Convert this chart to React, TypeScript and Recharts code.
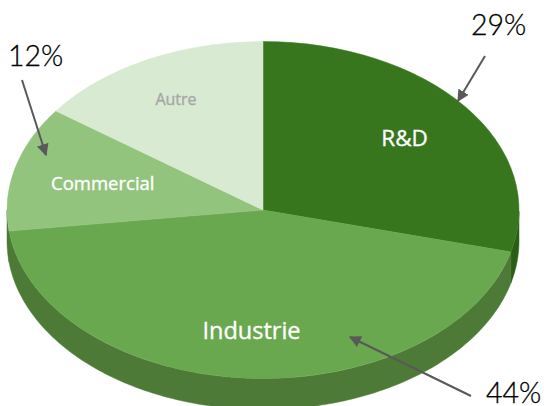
import React from "react";
import { PieChart, Pie, Cell } from "recharts";

const categories = ["R&D", "Industrie", "Commercial", "Autre"];
const shares = [29, 44, 12, 15];
const data = categories.map((name, i) => ({ name, value: shares[i] }));

const topColors = ["#38761d", "#6aa84f", "#93c47d", "#d9ead3"];
const wallColors = ["#2a5e14", "#4e7a38", "#4e7a38", "#a9c49d"];
const labelStyles = [
  { size: 22.5, fill: "#ffffff", reach: 0.7, dx: 0 },
  { size: 23.5, fill: "#ffffff", reach: 0.715, dx: 0 },
  { size: 18.5, fill: "#ffffff", reach: 0.646, dx: 0 },
  { size: 16, fill: "#a6a6a6", reach: 0.74, dx: -1 },
];

const annotations = ["29%", "12%", "44%"];

const FLATTEN = 168.5 / 256;
const DEPTH = 31;
const RAD = Math.PI / 180;

function pt(cx: number, cy: number, r: number, deg: number) {
  return [cx + r * Math.cos(deg * RAD), cy - r * FLATTEN * Math.sin(deg * RAD)];
}

function TopShape(props: any) {
  const { cx, cy, outerRadius: r, startAngle, endAngle, fill } = props;
  const [x0, y0] = pt(cx, cy, r, startAngle);
  const [x1, y1] = pt(cx, cy, r, endAngle);
  const large = Math.abs(endAngle - startAngle) > 180 ? 1 : 0;
  const d = `M${cx},${cy}L${x0},${y0}A${r},${r * FLATTEN} 0 ${large} 1 ${x1},${y1}Z`;
  return <path d={d} fill={fill} stroke={fill} strokeWidth={0.5} />;
}

function WallShape(props: any) {
  const { cx, cy, outerRadius: r, startAngle, endAngle, fill } = props;
  // Clockwise sweep; only the part of the rim below the horizontal (180..360 in math degrees) is visible.
  const norm = (a: number) => ((a % 360) + 360) % 360;
  const steps = 180;
  const pts: number[][] = [];
  const span = startAngle - endAngle;
  for (let i = 0; i <= steps; i++) {
    const a = startAngle - (span * i) / steps;
    if (norm(a) >= 180 || norm(a) === 0) pts.push(pt(cx, cy, r, a));
  }
  if (pts.length < 2) return null;
  const upper = pts.map((p) => `${p[0]},${p[1]}`).join("L");
  const lower = [...pts].reverse().map((p) => `${p[0]},${p[1] + DEPTH}`).join("L");
  return <path d={`M${upper}L${lower}Z`} fill={fill} stroke={fill} strokeWidth={0.5} />;
}

function renderLabel(props: any) {
  const { cx, cy, outerRadius: r, midAngle, index, name } = props;
  const s = labelStyles[index];
  const [x, y] = pt(cx, cy, r * s.reach, midAngle);
  return (
    <text
      x={x + s.dx}
      y={y}
      textAnchor="middle"
      dominantBaseline="central"
      fontFamily="'Open Sans', sans-serif"
      fontSize={s.size}
      fontWeight={400}
      fill={s.fill}
      stroke={s.fill}
      strokeWidth={0.35}
    >
      {name}
    </text>
  );
}

const arrowColor = "#595959";

export default function App() {
  return (
    <div style={{ position: "absolute", left: 0, top: 0, width: 544, height: 406, overflow: "hidden" }}>
      <PieChart width={544} height={406} margin={{ top: 0, right: 0, bottom: 0, left: 0 }}>
        <Pie
          data={data}
          dataKey="value"
          nameKey="name"
          cx={263}
          cy={210}
          outerRadius={256}
          startAngle={90}
          endAngle={-270}
          paddingAngle={0}
          stroke="none"
          shape={WallShape}
          isAnimationActive={false}
        >
          {data.map((d, i) => (
            <Cell key={d.name} fill={wallColors[i]} />
          ))}
        </Pie>
        <Pie
          data={data}
          dataKey="value"
          nameKey="name"
          cx={263}
          cy={210}
          outerRadius={256}
          startAngle={90}
          endAngle={-270}
          paddingAngle={0}
          stroke="none"
          shape={TopShape}
          label={renderLabel}
          labelLine={false}
          isAnimationActive={false}
        >
          {data.map((d, i) => (
            <Cell key={d.name} fill={topColors[i]} />
          ))}
        </Pie>
      </PieChart>
      <svg width={544} height={406} style={{ position: "absolute", left: 0, top: 0, pointerEvents: "none" }}>
        <defs>
          <marker id="head" viewBox="0 0 10 10" refX="9" refY="5" markerWidth="6" markerHeight="6" orient="auto-start-reverse">
            <path d="M0,0L10,5L0,10Z" fill={arrowColor} />
          </marker>
        </defs>
        <line x1={485} y1={56} x2={458} y2={101} stroke={arrowColor} strokeWidth={2} markerEnd="url(#head)" />
        <line x1={22} y1={80} x2={46} y2={155} stroke={arrowColor} strokeWidth={2} markerEnd="url(#head)" />
        <line x1={471} y1={396} x2={350} y2={337} stroke={arrowColor} strokeWidth={2} markerEnd="url(#head)" />
        <g fontFamily="Lato, sans-serif" fontWeight={300} fontSize={28.5} fill="#000000" stroke="#000000" strokeWidth={0.3}>
          <text x={471} y={35}>{annotations[0]}</text>
          <text x={8} y={66}>{annotations[1]}</text>
          <text x={486} y={403}>{annotations[2]}</text>
        </g>
      </svg>
    </div>
  );
}
